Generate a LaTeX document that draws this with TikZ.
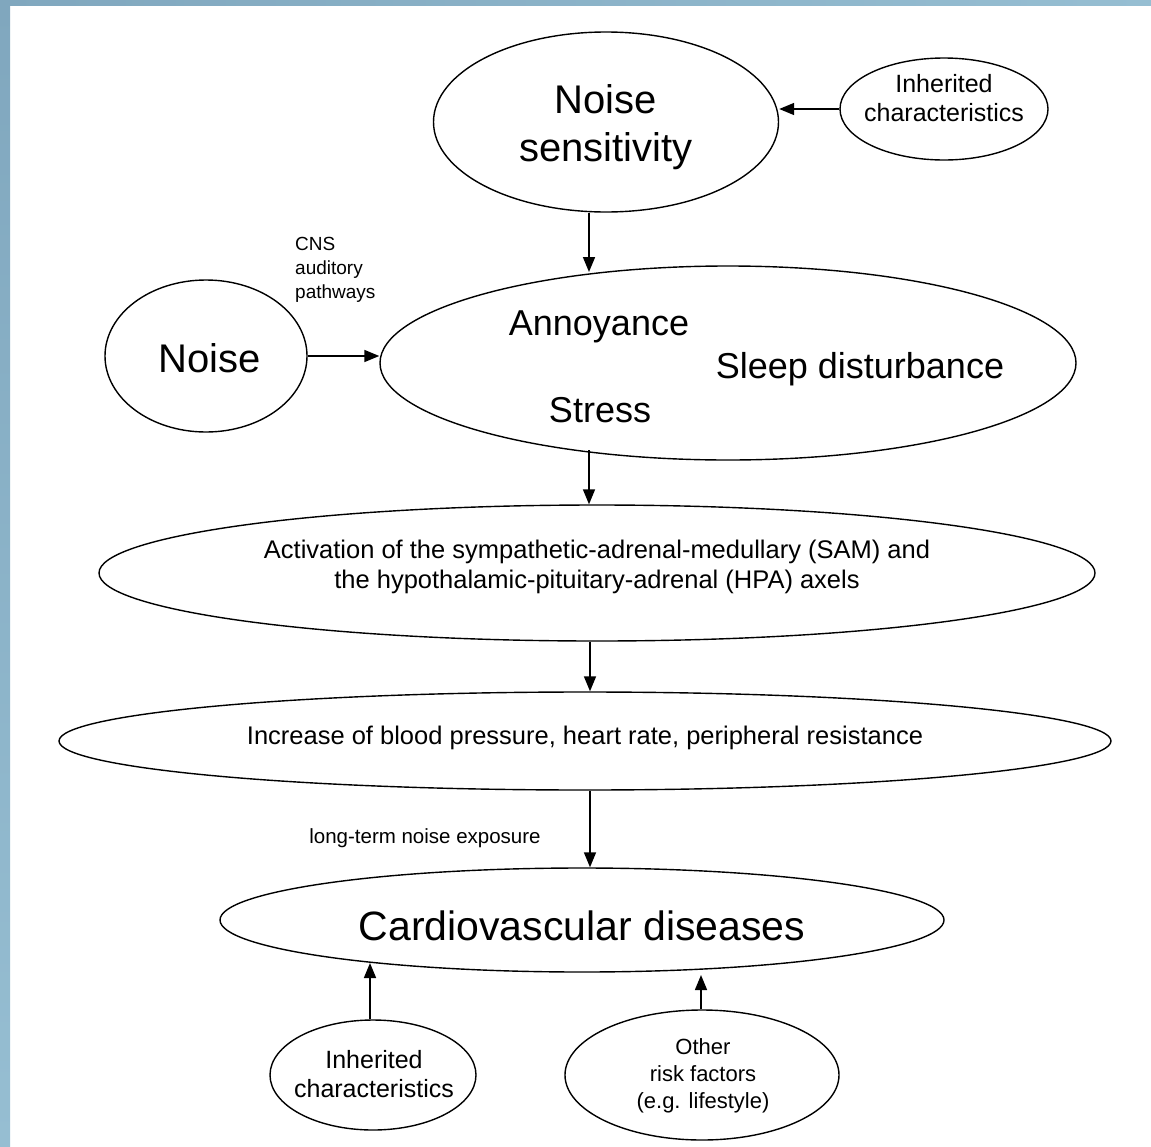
\documentclass[tikz,border=0pt]{standalone}
\usepackage{fontspec}
\setmainfont{Liberation Sans}
\usetikzlibrary{shapes.geometric,arrows.meta}
\definecolor{framedark}{RGB}{128,167,190}
\definecolor{framelight}{RGB}{150,190,210}
\tikzset{
  oval/.style={draw=black, line width=1.4pt, ellipse, inner sep=0pt},
  link/.style={draw=black, line width=1.6pt, -{Triangle[length=15pt,width=12pt]}},
  txt/.style={inner sep=0pt, align=center, text=black},
}
\newcommand{\fs}[2]{\fontsize{#1}{#2}\selectfont}
\begin{document}
\begin{tikzpicture}[x=1pt,y=-1pt]
\useasboundingbox (0,0) rectangle (1151,1146);
% slide frame
\fill[white] (0,0) rectangle (1151,1146);
\shade[left color=framedark, right color=framelight] (0,0) rectangle (1151,5);
\shade[top color=framedark, bottom color=framelight] (0,0) rectangle (10,1146);

% ellipses
\node[oval, minimum width=345, minimum height=180] (sens) at (606,122) {};
\node[oval, minimum width=208, minimum height=102] (inhtop) at (944,109) {};
\node[oval, minimum width=202, minimum height=152] (noise) at (206,356) {};
\node[oval, minimum width=696, minimum height=194] (annoy) at (728,363) {};
\node[oval, minimum width=996, minimum height=136] (act) at (597,573) {};
\node[oval, minimum width=1052, minimum height=98] (incr) at (585,741) {};
\node[oval, minimum width=724, minimum height=104] (cvd) at (582,920) {};
\node[oval, minimum width=206, minimum height=110] (inhbot) at (373,1075) {};
\node[oval, minimum width=274, minimum height=130] (other) at (702,1075) {};

% texts
\node[txt, font=\fs{40}{48}] (tsens) at (606,127) {Noise\\sensitivity};
\node[txt, font=\fs{25}{29}] (tinhtop) at (944,98) {Inherited\\characteristics};
\node[txt, font=\fs{19}{24}, align=left, anchor=north west] (tcns) at (295,237) {CNS\\auditory\\pathways};
\node[txt, font=\fs{40}{48}] (tnoise) at (210,358) {Noise};
\node[txt, font=\fs{36}{44}] (tann) at (599,327) {Annoyance};
\node[txt, font=\fs{36}{44}] (tsleep) at (860,369) {Sleep disturbance};
\node[txt, font=\fs{36}{44}] (tstress) at (600,410) {Stress};
\node[txt, font=\fs{25.5}{30}] (tact) at (597,567) {Activation of the sympathetic-adrenal-medullary (SAM) and\\the hypothalamic-pituitary-adrenal (HPA) axels};
\node[txt, font=\fs{25.5}{30}] (tincr) at (585,738) {Increase of blood pressure, heart rate, peripheral resistance};
\node[txt, font=\fs{20.5}{24}] (tlong) at (425,838) {long-term noise exposure};
\node[txt, font=\fs{41}{48}] (tcvd) at (582,926) {Cardiovascular diseases};
\node[txt, font=\fs{25}{29}] (tinhbot) at (374,1074) {Inherited\\characteristics};
\node[txt, font=\fs{22}{27}] (tother) at (703,1076) {Other\\risk factors\\(e.g. lifestyle)};

% connectors
\draw[link] (inhtop.west) -- (inhtop.west -| sens.east);
\draw[link] (sens.south -| 589,0) -- (589,272);
\draw[link] (noise.east) -- (annoy.west |- noise.east);
\draw[link] (589,450) -- (act.north -| 589,0);
\draw[link] (act.south -| 590,0) -- (incr.north -| 590,0);
\draw[link] (incr.south -| 590,0) -- (cvd.north -| 590,0);
\draw[link] (inhbot.north -| 370,0) -- (370,963);
\draw[link] (other.north -| 701,0) -- (701,975);
\end{tikzpicture}
\end{document}
